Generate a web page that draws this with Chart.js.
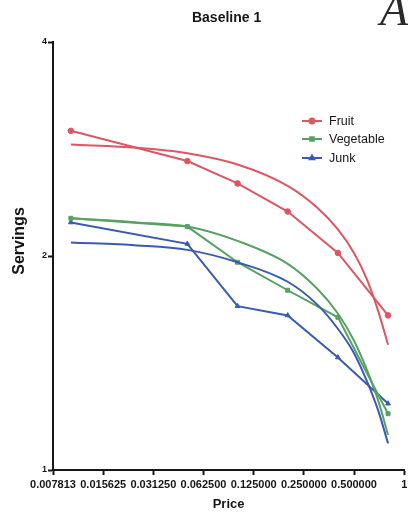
<!DOCTYPE html>
<html>
<head>
<meta charset="utf-8">
<script src="https://cdn.jsdelivr.net/npm/chart.js@4.4.1/dist/chart.umd.min.js"></script>
<style>
  html, body { margin: 0; padding: 0; background: #ffffff; }
  #wrap { width: 408px; height: 512px; }
</style>
</head>
<body>
<div id="wrap"><canvas id="chart" width="408" height="512"></canvas></div>
<script>
// Observed servings at each price
const prices = [0.01, 0.05, 0.1, 0.2, 0.4, 0.8];
const fruit = [3.0, 2.72, 2.53, 2.31, 2.02, 1.65];
const vegetable = [2.26, 2.20, 1.96, 1.79, 1.64, 1.20];
const junk = [2.23, 2.08, 1.70, 1.65, 1.44, 1.24];

// Fitted demand curves
const fitPrices = [0.01, 0.025, 0.05, 0.1, 0.2, 0.3, 0.4, 0.5, 0.6, 0.7, 0.8];
const fruitFit = [2.87, 2.84, 2.79, 2.69, 2.51, 2.34, 2.18, 2.02, 1.85, 1.67, 1.50];
const vegetableFit = [2.26, 2.23, 2.20, 2.10, 1.95, 1.80, 1.66, 1.52, 1.38, 1.25, 1.12];
const junkFit = [2.09, 2.07, 2.04, 1.96, 1.84, 1.71, 1.58, 1.46, 1.33, 1.21, 1.09];

// Axis ticks
const xTicks = [0.0078125, 0.015625, 0.03125, 0.0625, 0.125, 0.25, 0.5, 1];
const yTicks = [1, 2, 4];

const seriesNames = ['Fruit', 'Vegetable', 'Junk'];
const seriesColors = ['#dc5763', '#58a063', '#3a5bb2'];
const seriesMarkers = ['circle', 'rect', 'triangle'];

const FONT = '"Liberation Sans", Arial, Helvetica, sans-serif';
const INK = '#161616';

const pairs = (xs, ys) => xs.map((x, i) => ({ x, y: ys[i] }));

const observed = [fruit, vegetable, junk].map((vals, i) => ({
  label: seriesNames[i],
  data: pairs(prices, vals),
  borderColor: seriesColors[i],
  backgroundColor: seriesColors[i],
  borderWidth: 2,
  pointStyle: seriesMarkers[i],
  pointRadius: 2.8,
  pointHoverRadius: 2.8,
  pointBorderWidth: 1,
  tension: 0,
  order: 2
}));

const fitted = [fruitFit, vegetableFit, junkFit].map((vals, i) => ({
  label: seriesNames[i] + ' fit',
  data: pairs(fitPrices, vals),
  borderColor: seriesColors[i],
  backgroundColor: seriesColors[i],
  borderWidth: 2,
  pointRadius: 0,
  cubicInterpolationMode: 'monotone',
  order: 1
}));

// Title, panel letter, y-axis title and the in-plot legend
const decorations = {
  id: 'decorations',
  afterDraw(chart) {
    const { ctx, chartArea } = chart;
    ctx.save();
    ctx.fillStyle = INK;
    ctx.textAlign = 'center';
    ctx.textBaseline = 'middle';
    ctx.font = 'bold 14px ' + FONT;
    ctx.fillText('Baseline 1', (chartArea.left + chartArea.right) / 2 - 2, 18);

    ctx.fillStyle = '#2a2a2a';
    ctx.textAlign = 'left';
    ctx.textBaseline = 'alphabetic';
    ctx.font = 'italic 46px "Liberation Serif", "DejaVu Serif", serif';
    ctx.fillText('A', 380, 25);

    ctx.save();
    ctx.fillStyle = INK;
    ctx.translate(20, 241);
    ctx.rotate(-Math.PI / 2);
    ctx.textAlign = 'center';
    ctx.textBaseline = 'middle';
    ctx.font = 'bold 16px ' + FONT;
    ctx.fillText('Servings', 0, 0);
    ctx.restore();

    const lx = 302, lw = 20, tx = 329, rows = [121, 139, 158];
    ctx.font = '12.5px ' + FONT;
    ctx.textAlign = 'left';
    ctx.textBaseline = 'middle';
    seriesNames.forEach((name, i) => {
      const y = rows[i];
      ctx.strokeStyle = seriesColors[i];
      ctx.fillStyle = seriesColors[i];
      ctx.lineWidth = 2;
      ctx.beginPath();
      ctx.moveTo(lx, y);
      ctx.lineTo(lx + lw, y);
      ctx.stroke();
      Chart.helpers.drawPoint(ctx, { pointStyle: seriesMarkers[i], radius: 2.5, rotation: 0, borderWidth: 1 }, lx + lw / 2, y);
      ctx.fillStyle = INK;
      ctx.fillText(name, tx, y + 0.5);
    });
    ctx.restore();
  }
};

new Chart(document.getElementById('chart'), {
  type: 'line',
  data: { datasets: [...fitted, ...observed] },
  options: {
    responsive: false,
    animation: false,
    events: [],
    layout: { padding: { top: 42, right: 2, left: 0, bottom: 0 } },
    plugins: {
      legend: { display: false },
      title: { display: false },
      tooltip: { enabled: false }
    },
    scales: {
      x: {
        type: 'logarithmic',
        min: 0.0078125,
        max: 1,
        border: { display: true, color: INK, width: 2 },
        grid: { display: true, drawOnChartArea: false, drawTicks: true, tickLength: 5, tickColor: INK, tickWidth: 2 },
        afterBuildTicks: (scale) => { scale.ticks = xTicks.map(v => ({ value: v })); },
        afterFit: (scale) => { scale.height = 42; scale.paddingLeft = 0; scale.paddingRight = 0; },
        ticks: {
          autoSkip: false,
          maxRotation: 0,
          minRotation: 0,
          padding: 3,
          color: INK,
          font: { family: FONT, size: 11, weight: 'bold' },
          callback: (v) => (v === 1 ? '1' : Number(v).toFixed(6))
        },
        title: {
          display: true,
          text: 'Price',
          color: INK,
          font: { family: FONT, size: 13, weight: 'bold' },
          padding: { top: 0, bottom: 0 }
        }
      },
      y: {
        type: 'logarithmic',
        min: 1,
        max: 4,
        border: { display: true, color: INK, width: 2 },
        grid: { display: true, drawOnChartArea: false, drawTicks: true, tickLength: 5, tickColor: INK, tickWidth: 2 },
        afterBuildTicks: (scale) => { scale.ticks = yTicks.map(v => ({ value: v })); },
        afterFit: (scale) => { scale.width = 53; scale.paddingTop = 0; scale.paddingBottom = 0; },
        ticks: {
          padding: 1,
          color: INK,
          font: { family: FONT, size: 9, weight: 'bold' },
          callback: (v) => String(v)
        },
        title: { display: false }
      }
    }
  },
  plugins: [decorations]
});
</script>
</body>
</html>
